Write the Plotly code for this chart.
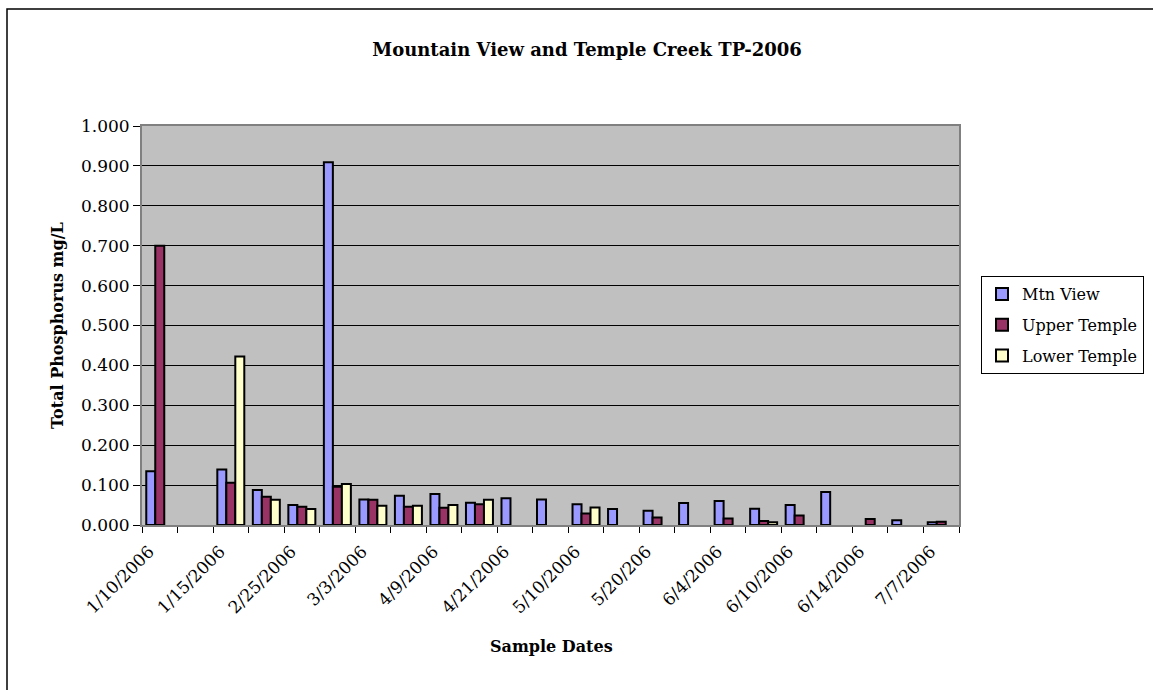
import plotly.graph_objects as go

# ---- data ----
n_categories = 23
tick_positions = [0, 2, 4, 6, 8, 10, 12, 14, 16, 18, 20, 22]
tick_labels = ["1/10/2006", "1/15/2006", "2/25/2006", "3/3/2006", "4/9/2006",
               "4/21/2006", "5/10/2006", "5/20/206", "6/4/2006", "6/10/2006",
               "6/14/2006", "7/7/2006"]

mtn_view = [0.135, None, 0.139, 0.088, 0.050, 0.909, 0.064, 0.073, 0.078, 0.056,
            0.067, 0.064, 0.052, 0.040, 0.036, 0.055, 0.060, 0.041, 0.050, 0.083,
            None, 0.012, 0.007]
upper_temple = [0.700, None, 0.106, 0.071, 0.046, 0.096, 0.063, 0.046, 0.043, 0.052,
                None, None, 0.029, None, 0.019, None, 0.016, 0.010, 0.024, None,
                0.015, None, 0.008]
lower_temple = [None, None, 0.422, 0.063, 0.040, 0.103, 0.048, 0.048, 0.050, 0.063,
                None, None, 0.044, None, None, None, None, 0.007, None, None,
                None, None, None]

series = [("Mtn View", mtn_view, "#9999FF"),
          ("Upper Temple", upper_temple, "#993366"),
          ("Lower Temple", lower_temple, "#FFFFCC")]

FONT = "DejaVu Serif"
x = list(range(n_categories))
LABEL_SHIFT = -0.3  # rotated labels end slightly left of the category centre

fig = go.Figure()
for name, vals, color in series:
    fig.add_trace(go.Bar(x=x, y=vals, name=name, legendgroup=name,
                         marker=dict(color=color, line=dict(color="black", width=2))))

# plot area in pixels: x 142..959, y 126..525
L, R, T, B = 142, 959, 126, 525
W, H = 1153, 690
pw, ph = R - L, B - T

def px_x(p):
    return (p - L) / pw

def px_y(p):
    return (B - p) / ph

fig.update_layout(
    width=W, height=H,
    margin=dict(l=L, r=W - R, t=T, b=H - B, autoexpand=False),
    paper_bgcolor="white",
    plot_bgcolor="#C0C0C0",
    barmode="group",
    bargap=0.24,
    bargroupgap=0,
    font=dict(family=FONT, size=16, color="black"),
    title=dict(text="<b>Mountain View and Temple Creek TP-2006</b>",
               x=587 / W, xref="container", xanchor="center",
               y=1 - 50 / H, yref="container", yanchor="middle",
               font=dict(family=FONT, size=18, color="black")),
    legend=dict(x=px_x(981), y=px_y(276), xanchor="left", yanchor="top",
                bordercolor="black", borderwidth=1, bgcolor="white",
                font=dict(family=FONT, size=16, color="black"),
                traceorder="grouped", tracegroupgap=7, itemwidth=30),
    xaxis=dict(range=[-0.5, n_categories - 0.5],
               tickmode="array", tickvals=[p + LABEL_SHIFT for p in tick_positions],
               ticktext=tick_labels,
               tickangle=-45, ticks="", showgrid=False, ticklabelstandoff=8,
               tickfont=dict(family=FONT, size=17, color="black"),
               showline=True, linecolor="#808080", linewidth=2, mirror=True,
               minor=dict(tickmode="linear", tick0=-0.5, dtick=1, ticks="outside",
                          ticklen=6, tickcolor="black", tickwidth=1, showgrid=False),
               zeroline=False),
    yaxis=dict(range=[0, 1], dtick=0.1, tick0=0, tickformat=".3f",
               ticks="outside", ticklen=7, tickcolor="black",
               showgrid=True, gridcolor="black", gridwidth=1,
               tickfont=dict(family=FONT, size=17, color="black"),
               showline=True, linecolor="#808080", linewidth=2, mirror=True,
               zeroline=False),
    shapes=[dict(type="rect", xref="paper", yref="paper",
                 x0=px_x(7), x1=px_x(1170), y0=px_y(705), y1=px_y(9),
                 line=dict(color="black", width=1.5), fillcolor="rgba(0,0,0,0)",
                 layer="below")],
    annotations=[
        dict(text="<b>Total Phosphorus mg/L</b>", xref="paper", yref="paper",
             x=px_x(57), y=px_y(326), xanchor="center", yanchor="middle",
             textangle=-90, showarrow=False,
             font=dict(family=FONT, size=16, color="black")),
        dict(text="<b>Sample Dates</b>", xref="paper", yref="paper",
             x=px_x(551), y=px_y(646), xanchor="center", yanchor="middle",
             showarrow=False, font=dict(family=FONT, size=16, color="black")),
    ],
)

fig.write_html("out.html", config={"displayModeBar": False},
               post_script="document.body.style.margin='0px';")
